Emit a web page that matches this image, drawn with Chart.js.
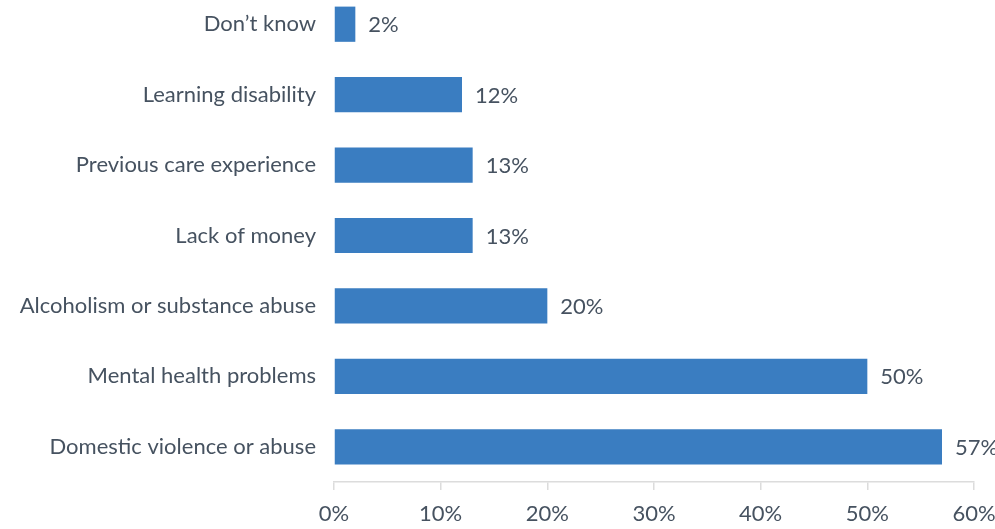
<!DOCTYPE html>
<html lang="en">
<head>
    <meta charset="UTF-8">
    <title>Reasons</title>
    <script src="https://cdn.jsdelivr.net/npm/chart.js"></script>
    <style>
        html, body { margin: 0; padding: 0; background: #fff; overflow: hidden; }
        body { width: 995px; height: 529px; position: relative; }
        #wrap { position: absolute; left: 0; top: -11px; width: 1020px; height: 540px; }
    </style>
</head>
<body>
    <div id="wrap">
        <canvas id="reasonChart"></canvas>
    </div>

    <script>
        // Data
        const categories = [
            'Don\u2019t know',
            'Learning disability',
            'Previous care experience',
            'Lack of money',
            'Alcoholism or substance abuse',
            'Mental health problems',
            'Domestic violence or abuse'
        ];
        const percentValues = [2, 12, 13, 13, 20, 50, 57];
        const xTicks = [0, 10, 20, 30, 40, 50, 60];

        const textColor = '#465260';
        const fontFamily = 'Lato, "Open Sans", sans-serif';

        // simple value labels at the end of each bar
        const valueLabels = {
            id: 'valueLabels',
            afterDatasetsDraw(chart) {
                const ctx = chart.ctx;
                const meta = chart.getDatasetMeta(0);
                ctx.save();
                ctx.font = '22px ' + fontFamily;
                ctx.fillStyle = textColor;
                ctx.textAlign = 'left';
                ctx.textBaseline = 'middle';
                meta.data.forEach((bar, i) => {
                    ctx.fillText(percentValues[i] + '%', bar.x + 13, bar.y + 1);
                });
                ctx.restore();
            }
        };

        const ctx = document.getElementById('reasonChart').getContext('2d');
        new Chart(ctx, {
            type: 'bar',
            data: {
                labels: categories,
                datasets: [{
                    data: percentValues,
                    backgroundColor: '#3a7dc1',
                    borderWidth: 0,
                    categoryPercentage: 1,
                    barPercentage: 0.5
                }]
            },
            options: {
                indexAxis: 'y',
                responsive: true,
                maintainAspectRatio: false,
                animation: false,
                layout: { padding: { left: 0, right: 46, top: 0, bottom: 0 } },
                plugins: {
                    legend: { display: false },
                    tooltip: { enabled: false }
                },
                scales: {
                    x: {
                        min: 0,
                        max: 60,
                        afterBuildTicks(scale) {
                            scale.ticks = xTicks.map(v => ({ value: v }));
                        },
                        afterFit(scale) { scale.height = 47; },
                        grid: {
                            drawOnChartArea: false,
                            drawTicks: true,
                            tickLength: 8,
                            color: '#dcdcdc',
                            lineWidth: 1.5
                        },
                        border: { display: true, color: '#dcdcdc', width: 1.5 },
                        ticks: {
                            padding: 11,
                            color: textColor,
                            font: { family: fontFamily, size: 22 },
                            maxRotation: 0,
                            callback: v => v + '%'
                        }
                    },
                    y: {
                        afterFit(scale) {
                            scale.width = 334;
                            scale.paddingTop = 0;
                            scale.paddingBottom = 0;
                        },
                        grid: { display: false, drawTicks: false },
                        border: { display: false },
                        ticks: {
                            padding: 18,
                            color: textColor,
                            font: { family: fontFamily, size: 22 }
                        }
                    }
                }
            },
            plugins: [valueLabels]
        });
    </script>
</body>
</html>
